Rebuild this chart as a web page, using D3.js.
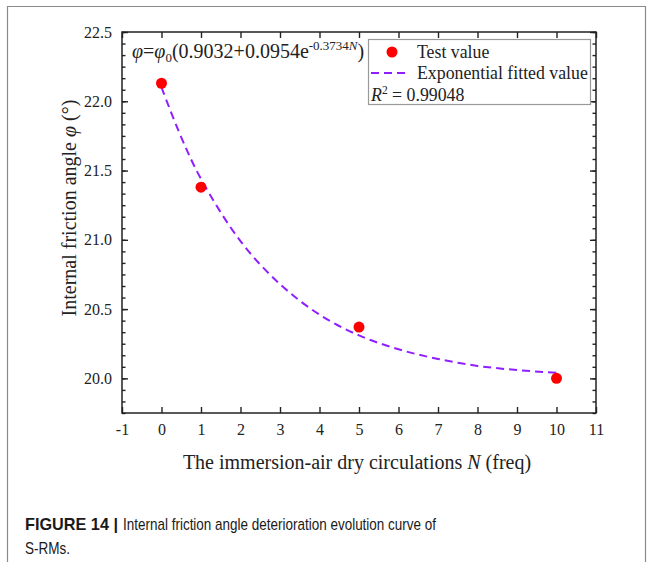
<!DOCTYPE html>
<html>
<head>
<meta charset="utf-8">
<script src="https://cdn.jsdelivr.net/npm/d3@7"></script>
<style>
  body { margin: 0; background: #fff; }
  svg { display: block; }
  .serif { font-family: "Liberation Serif", "Times New Roman", serif; fill: #222; }
  .tick text { font-family: "Liberation Serif", "Times New Roman", serif; font-size: 16px; fill: #222; }
</style>
</head>
<body>
<svg id="canvas" width="651" height="562"></svg>
<script>
// test values
const cycles = [0, 1, 5, 10];
const testValues = [22.13, 21.38, 20.37, 20.0];

// exponential fitted curve
const fitCycles = [0, 0.5, 1, 2, 3, 4, 5, 6, 7, 8, 9, 10];
const fitValues = [22.10, 21.74, 21.44, 20.99, 20.68, 20.46, 20.31, 20.21, 20.14, 20.09, 20.06, 20.04];

const xTicks = [-1, 0, 1, 2, 3, 4, 5, 6, 7, 8, 9, 10, 11];
const yTicks = [20.0, 20.5, 21.0, 21.5, 22.0, 22.5];

const svg = d3.select('#canvas');
const W = 651, H = 562;
const m = { left: 122, right: 596, top: 32, bottom: 413 };

svg.append('rect').attr('width', W).attr('height', H).attr('fill', '#fff');

// outer page frame
svg.append('path')
  .attr('d', `M7.5,${H + 5}V6.5H645.5V${H + 5}`)
  .attr('fill', 'none')
  .attr('stroke', '#8a8a8a')
  .attr('stroke-width', 1.2);

const x = d3.scaleLinear().domain([-1, 11]).range([m.left, m.right]);
const y = d3.scaleLinear().domain([19.75, 22.5]).range([m.bottom, m.top]);

// minor y ticks every 1/12
const yMinor = d3.range(0, 34).map(i => 19.75 + i / 12).filter(v => v < 22.5 + 1e-6);

const axisColor = '#222';

// bottom axis
const gx = svg.append('g')
  .attr('transform', `translate(0,${m.bottom})`)
  .call(d3.axisBottom(x).tickValues(xTicks).tickSizeInner(-6).tickSizeOuter(0).tickPadding(11).tickFormat(d => String(d)));
// top axis, ticks only
const gxt = svg.append('g')
  .attr('transform', `translate(0,${m.top})`)
  .call(d3.axisTop(x).tickValues(xTicks).tickSizeInner(-6).tickSizeOuter(0).tickFormat(''));

// left axis
const gy = svg.append('g')
  .attr('transform', `translate(${m.left},0)`)
  .call(d3.axisLeft(y).tickValues(yTicks).tickSizeInner(-6).tickSizeOuter(0).tickPadding(10).tickFormat(d3.format('.1f')));
const gyMinor = svg.append('g')
  .attr('transform', `translate(${m.left},0)`)
  .call(d3.axisLeft(y).tickValues(yMinor).tickSizeInner(-3.5).tickSizeOuter(0).tickFormat(''));

// right axis, ticks only
const gr = svg.append('g')
  .attr('transform', `translate(${m.right},0)`)
  .call(d3.axisRight(y).tickValues(yTicks).tickSizeInner(-6).tickSizeOuter(0).tickFormat(''));
const grMinor = svg.append('g')
  .attr('transform', `translate(${m.right},0)`)
  .call(d3.axisRight(y).tickValues(yMinor).tickSizeInner(-3.5).tickSizeOuter(0).tickFormat(''));

[gx, gxt, gy, gyMinor, gr, grMinor].forEach(g => {
  g.attr('font-family', null).attr('font-size', null);
  g.select('.domain').remove();
  g.selectAll('line').attr('stroke', axisColor).attr('stroke-width', 1.4);
});

// frame
svg.append('rect')
  .attr('x', m.left).attr('y', m.top)
  .attr('width', m.right - m.left).attr('height', m.bottom - m.top)
  .attr('fill', 'none')
  .attr('stroke', axisColor)
  .attr('stroke-width', 1.5);

// fitted curve
const line = d3.line()
  .x((d, i) => x(fitCycles[i]))
  .y(d => y(d))
  .curve(d3.curveCatmullRom);

svg.append('path')
  .datum(fitValues)
  .attr('d', line)
  .attr('fill', 'none')
  .attr('stroke', '#8f1fff')
  .attr('stroke-width', 2)
  .attr('stroke-dasharray', '8,5');

// test points
svg.append('g')
  .selectAll('circle')
  .data(testValues)
  .join('circle')
  .attr('cx', (d, i) => x(cycles[i]))
  .attr('cy', d => y(d))
  .attr('r', 5.5)
  .attr('fill', '#ff0000');

// formula
const f = svg.append('text')
  .attr('class', 'serif')
  .attr('x', 132)
  .attr('y', 58)
  .attr('font-size', 20);
f.append('tspan').attr('font-style', 'italic').text('φ');
f.append('tspan').text('=');
f.append('tspan').attr('font-style', 'italic').text('φ');
f.append('tspan').attr('font-size', 13).attr('dy', 4).text('0');
f.append('tspan').attr('dy', -4).text('(0.9032+0.0954e');
f.append('tspan').attr('font-size', 13).attr('dy', -8).text('-0.3734');
f.append('tspan').attr('font-size', 13).attr('font-style', 'italic').text('N');
f.append('tspan').attr('dy', 8).text(')');

// legend
const lg = svg.append('g');
lg.append('rect')
  .attr('x', 368.5).attr('y', 39.5)
  .attr('width', 222).attr('height', 65)
  .attr('fill', '#fff')
  .attr('stroke', '#999')
  .attr('stroke-width', 1.2);
lg.append('circle').attr('cx', 392).attr('cy', 52).attr('r', 5.5).attr('fill', '#ff0000');
lg.append('text').attr('class', 'serif').attr('x', 417).attr('y', 58).attr('font-size', 17.8).text('Test value');
lg.append('line')
  .attr('x1', 371).attr('x2', 409).attr('y1', 73).attr('y2', 73)
  .attr('stroke', '#8f1fff').attr('stroke-width', 2).attr('stroke-dasharray', '8,5');
lg.append('text').attr('class', 'serif').attr('x', 417).attr('y', 79).attr('font-size', 17.8).text('Exponential fitted value');
const r2 = lg.append('text').attr('class', 'serif').attr('x', 371).attr('y', 101).attr('font-size', 17.8);
r2.append('tspan').attr('font-style', 'italic').text('R');
r2.append('tspan').attr('font-size', 11.5).attr('dy', -7).text('2');
r2.append('tspan').attr('dy', 7).text(' = 0.99048');

// axis titles
const xt = svg.append('text')
  .attr('class', 'serif')
  .attr('x', 357)
  .attr('y', 469)
  .attr('text-anchor', 'middle')
  .attr('font-size', 20);
xt.append('tspan').text('The immersion-air dry circulations ');
xt.append('tspan').attr('font-style', 'italic').text('N');
xt.append('tspan').text(' (freq)');

const yt = svg.append('text')
  .attr('class', 'serif')
  .attr('transform', 'translate(76,208) rotate(-90)')
  .attr('text-anchor', 'middle')
  .attr('font-size', 20);
yt.append('tspan').text('Internal friction angle ');
yt.append('tspan').attr('font-style', 'italic').text('φ');
yt.append('tspan').text(' (°)');

// caption
const capFont = '"Liberation Sans", Arial, sans-serif';
svg.append('text')
  .attr('x', 25).attr('y', 530)
  .attr('font-family', capFont)
  .attr('font-size', 17)
  .attr('font-weight', 'bold')
  .attr('fill', '#1a1a1a')
  .attr('textLength', 93)
  .attr('lengthAdjust', 'spacingAndGlyphs')
  .text('FIGURE 14 |');
svg.append('text')
  .attr('x', 123).attr('y', 530)
  .attr('font-family', capFont)
  .attr('font-size', 17)
  .attr('fill', '#1a1a1a')
  .attr('textLength', 313)
  .attr('lengthAdjust', 'spacingAndGlyphs')
  .text('Internal friction angle deterioration evolution curve of');

svg.append('text')
  .attr('x', 25).attr('y', 554)
  .attr('font-family', capFont)
  .attr('font-size', 17)
  .attr('fill', '#1a1a1a')
  .attr('textLength', 45)
  .attr('lengthAdjust', 'spacingAndGlyphs')
  .text('S-RMs.');
</script>
</body>
</html>
